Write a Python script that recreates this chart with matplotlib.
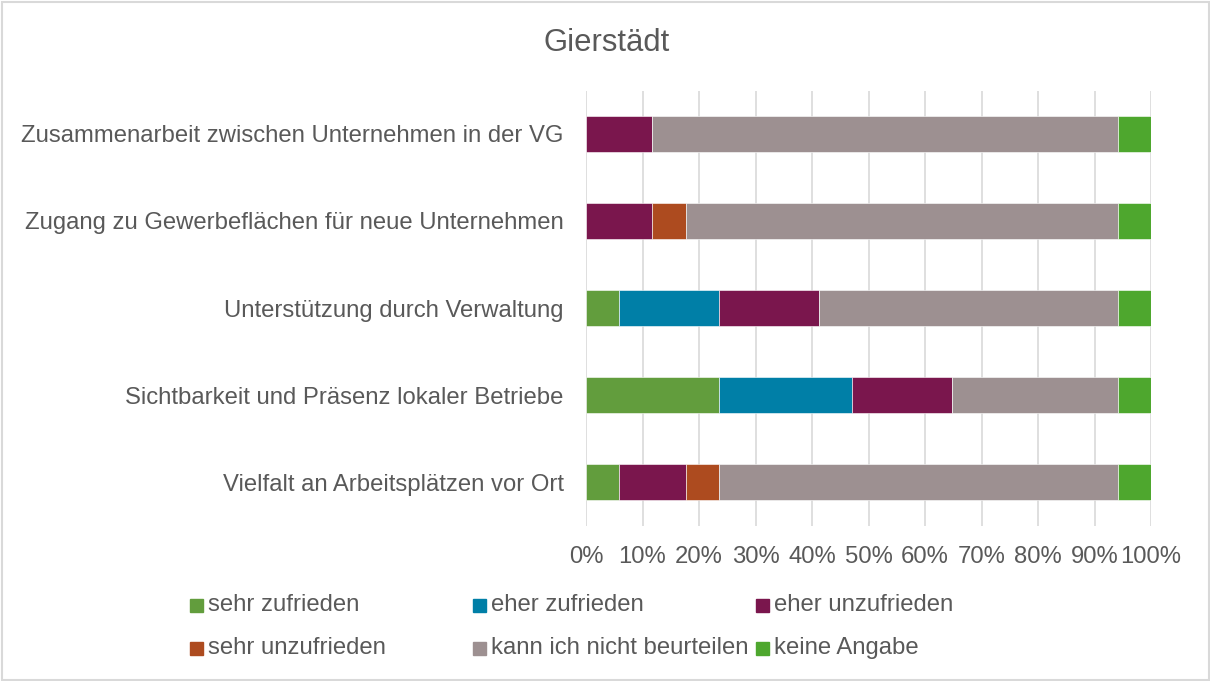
import matplotlib.pyplot as plt
from matplotlib.patches import Rectangle

plt.rcParams['font.family'] = ['Liberation Sans', 'DejaVu Sans']

categories = ['Zusammenarbeit zwischen Unternehmen in der VG',
              'Zugang zu Gewerbeflächen für neue Unternehmen',
              'Unterstützung durch Verwaltung',
              'Sichtbarkeit und Präsenz lokaler Betriebe',
              'Vielfalt an Arbeitsplätzen vor Ort']

series = ['sehr zufrieden', 'eher zufrieden', 'eher unzufrieden',
          'sehr unzufrieden', 'kann ich nicht beurteilen', 'keine Angabe']
colors = ['#629D3D', '#007FA7', '#7A164D', '#AD4B1F', '#9D9091', '#4EA72E']

# shares in percent, one list per answer, same order as categories
sehr_zufrieden = [0.0, 0.0, 5.88, 23.53, 5.88]
eher_zufrieden = [0.0, 0.0, 17.65, 23.53, 0.0]
eher_unzufrieden = [11.76, 11.76, 17.65, 17.65, 11.76]
sehr_unzufrieden = [0.0, 5.88, 0.0, 0.0, 5.88]
kann_nicht = [82.35, 76.47, 52.94, 29.41, 70.59]
keine_angabe = [5.88, 5.88, 5.88, 5.88, 5.88]
values = [sehr_zufrieden, eher_zufrieden, eher_unzufrieden,
          sehr_unzufrieden, kann_nicht, keine_angabe]

txt = '#595959'
W, H = 1210, 681
fig = plt.figure(figsize=(W / 100, H / 100), dpi=100)
ax = fig.add_axes([586 / W, 1 - 525.5 / H, (1151 - 586) / W, (525.5 - 90.5) / H])

ypos = list(range(len(categories)))
left = [0.0] * len(categories)
for name, vals, c in zip(series, values, colors):
    ax.barh(ypos, vals, left=left, height=0.41, color=c,
            edgecolor='white', linewidth=0.4, label=name, zorder=3)
    left = [l + v for l, v in zip(left, vals)]

ax.set_xlim(0, 100)
ax.set_ylim(len(categories) - 0.5, -0.5)
ax.set_xticks(range(0, 101, 10))
ax.set_xticklabels([f'{t}%' for t in range(0, 101, 10)])
ax.set_yticks(ypos)
ax.set_yticklabels(categories)
ax.tick_params(axis='both', length=0, labelsize=17.2, colors=txt)
ax.tick_params(axis='y', pad=16)
ax.tick_params(axis='x', pad=15)
ax.grid(axis='x', color='#D9D9D9', linewidth=1.2, zorder=0)
for s in ax.spines.values():
    s.set_visible(False)

fig.text(607 / W, 1 - 43 / H, 'Gierstädt', ha='center', va='center',
         fontsize=22.3, color=txt)

# legend, three fixed-width columns
col_x = [190, 473, 756]
row_y = [605, 648]
for i, (name, c) in enumerate(zip(series, colors)):
    x = col_x[i % 3]
    y = row_y[i // 3]
    fig.add_artist(Rectangle((x / W, 1 - (y + 6.5) / H), 13 / W, 13 / H,
                             transform=fig.transFigure, color=c))
    fig.text((x + 18) / W, 1 - y / H, name, ha='left', va='center',
             fontsize=17.2, color=txt)

fig.add_artist(Rectangle((1.5 / W, 1.5 / H), (W - 3) / W, (H - 3) / H,
                         transform=fig.transFigure, fill=False,
                         edgecolor='#D9D9D9', linewidth=1.5))

fig.savefig('out.png', dpi=100)
